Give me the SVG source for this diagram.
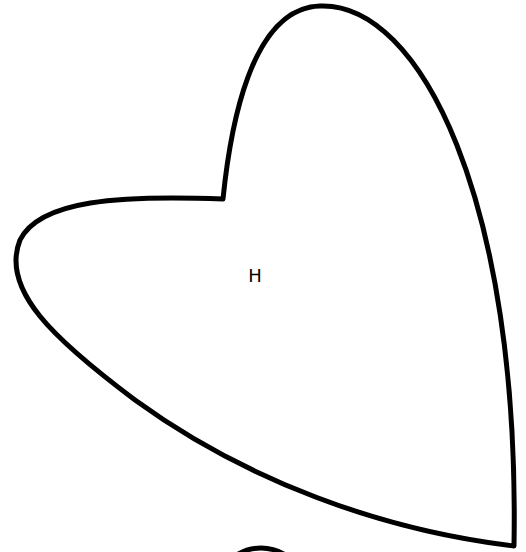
<svg xmlns="http://www.w3.org/2000/svg" width="526" height="552" viewBox="0 0 526 552">
<style>
.s{fill:none;stroke:#000;stroke-width:5;stroke-linejoin:round}
.t{font-family:"DejaVu Sans",sans-serif;font-size:18px;fill:#000;text-anchor:middle}
</style>
<rect width="526" height="552" fill="#fff"/>
<g id="heart">
<path class="s" d="M223,199 C230,130 250,8 320,6 C420,2 520,200 514,546 C380,530 245,480 135,400 C55,340 0,290 20,240 C40,200 120,195 223,199 Z"/>
<text class="t" x="255" y="282">H</text>
</g>
<g id="partial">
<ellipse class="s" cx="261" cy="600" rx="48" ry="52"/>
</g>
</svg>
